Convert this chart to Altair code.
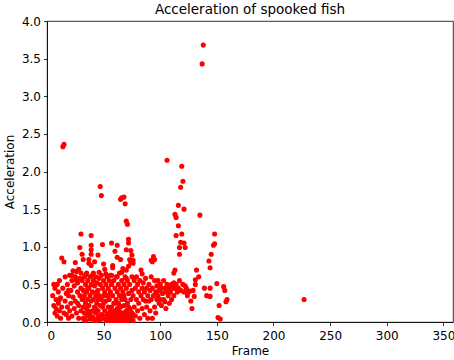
import altair as alt
import pandas as pd

# Frame / acceleration pairs
frames_a = [5, 6, 6, 7, 7, 8, 8, 9, 9, 10, 10, 11, 11, 12, 12, 13, 13, 14, 15, 15, 14, 15, 16, 16, 17, 17, 18, 18, 19, 19, 20, 20]
acc_a = [0.35, 0.5, 0.22, 0.45, 0.12, 0.3, 0.18, 0.5, 0.08, 0.25, 0.4, 0.15, 0.55, 0.32, 0.05, 0.2, 0.85, 2.33, 2.36, 0.8, 0.45, 0.12, 0.28, 0.6, 0.38, 0.1, 0.5, 0.2, 0.05, 0.35, 0.62, 0.15]

frames_b = [21, 21, 22, 22, 23, 23, 24, 24, 25, 25, 25, 26, 26, 27, 27, 28, 28, 28, 29, 29, 29, 30, 30, 30, 30]
acc_b = [0.42, 0.25, 0.55, 0.08, 0.68, 0.33, 0.18, 0.48, 0.79, 0.6, 0.28, 0.67, 0.12, 0.4, 0.52, 0.7, 0.22, 0.05, 0.99, 0.35, 0.58, 1.17, 0.45, 0.15, 0.65]

frames_c = [31, 31, 31, 32, 32, 32, 32, 33, 33, 33, 34, 34, 34, 35, 35, 35, 36, 36, 36, 37, 37, 37, 37, 38, 38, 38,
            39, 39, 39, 39, 39, 39, 39, 40, 40, 40, 41, 41, 41, 42, 42, 42, 43, 43, 43, 44, 44, 44, 45, 45, 45, 45,
            46, 46, 46, 47, 47, 47, 48, 48, 48, 48, 49, 49, 49, 50, 50, 50, 50]
acc_c = [0.9, 0.3, 0.55, 0.83, 0.2, 0.42, 0.05, 0.6, 0.35, 0.12, 0.5, 0.25, 0.02, 0.65, 0.4, 0.18, 0.55, 0.3, 0.08, 0.83, 0.78, 0.45, 0.22, 0.6, 0.35, 0.1,
         1.15, 1.02, 0.96, 0.9, 0.75, 0.5, 0.28, 0.62, 0.15, 0.4, 0.55, 0.3, 0.05, 0.8, 0.48, 0.2, 0.6, 0.35, 0.12, 0.52, 0.25, 0.02, 0.89, 0.42, 0.3, 0.15,
         0.58, 0.35, 0.08, 1.8, 0.5, 0.22, 1.68, 0.62, 0.3, 0.1, 1.03, 0.45, 0.2, 0.77, 0.55, 0.35, 0.05]

frames_d = [51, 51, 51, 52, 52, 52, 53, 53, 53, 54, 54, 54, 55, 55, 55, 56, 56, 56, 57, 57, 57, 57, 58, 58, 58, 58,
            59, 59, 59, 60, 60, 60, 60, 61, 61, 61, 62, 62, 62, 62, 62, 63, 63, 63, 64, 64, 64, 65, 65, 65, 65, 65,
            66, 66, 66, 66, 67, 67, 67, 68, 68, 68, 68, 69, 69, 69, 69, 70, 70, 70, 70, 70, 71, 71, 71, 71,
            72, 72, 72, 72, 72, 73, 73, 73, 74, 74, 74, 74, 75, 75, 75, 75]
acc_d = [0.7, 0.4, 0.15, 0.5, 0.28, 0.02, 0.6, 0.35, 0.1, 0.45, 0.2, 0.05, 0.55, 0.3, 0.12, 0.62, 0.4, 0.08, 1.05, 0.5, 0.2, 0.02, 0.75, 0.72, 0.35, 0.1,
         0.55, 0.25, 0.05, 0.94, 0.45, 0.15, 0.02, 0.6, 0.3, 0.08, 1.02, 0.86, 0.4, 0.18, 0.04, 0.5, 0.25, 0.1, 0.65, 0.35, 0.02, 1.63, 0.83, 0.45, 0.2, 0.06,
         1.65, 0.55, 0.3, 0.12, 0.71, 0.4, 0.02, 1.66, 0.5, 0.22, 0.08, 1.57, 0.6, 0.3, 0.04, 1.34, 0.96, 0.69, 0.45, 0.15, 1.3, 0.55, 0.25, 0.02,
         1.1, 1.05, 0.74, 0.38, 0.1, 0.83, 0.5, 0.18, 0.95, 0.79, 0.3, 0.05, 0.89, 0.6, 0.42, 0.12]

frames_e = [76, 76, 76, 76, 77, 77, 78, 78, 79, 79, 80, 80, 81, 81, 82, 82, 83, 83, 84, 84, 84, 85, 85, 86, 86, 87, 87,
            88, 88, 89, 89, 90, 90, 91, 91, 92, 92, 92, 93, 93, 93, 94, 94, 95, 95, 95, 96, 96, 97, 97, 98, 98, 99, 99, 100, 100]
acc_e = [0.82, 0.78, 0.35, 0.02, 0.55, 0.2, 0.45, 0.08, 0.6, 0.3, 0.5, 0.15, 0.4, 0.25, 0.55, 0.05, 0.69, 0.35, 0.64, 0.45, 0.18, 0.3, 0.52, 0.4, 0.1, 0.28, 0.58,
         0.45, 0.2, 0.35, 0.05, 0.5, 0.28, 0.42, 0.15, 0.82, 0.6, 0.3, 0.8, 0.45, 0.05, 0.87, 0.35, 0.83, 0.55, 0.2, 0.4, 0.12, 0.48, 0.3, 0.55, 0.35, 0.42, 0.25, 0.5, 0.3]

# extra points filling the dense low band
frames_g = [33, 35, 36, 38, 40, 42, 43, 45, 47, 49, 53, 55, 56, 58, 59, 61, 63, 64, 66, 67, 68, 69, 71, 73, 74, 76,
            22, 26, 34, 41, 46, 52, 57, 62, 66, 70, 60, 64, 68, 72, 44, 50, 54, 36, 32, 27, 19, 11]
acc_g = [0.03, 0.1, 0.15, 0.04, 0.07, 0.02, 0.18, 0.06, 0.03, 0.09, 0.03, 0.02, 0.15, 0.05, 0.12, 0.02, 0.06, 0.14, 0.03, 0.1, 0.02, 0.13, 0.08, 0.03, 0.14, 0.1,
         0.62, 0.55, 0.62, 0.65, 0.66, 0.64, 0.62, 0.6, 0.66, 0.58, 0.25, 0.22, 0.35, 0.2, 0.4, 0.25, 0.35, 0.45, 0.3, 0.25, 0.42, 0.3]

frames_f = [101, 101, 102, 103, 103, 104, 104, 105, 105, 106, 106, 107, 108, 108, 109, 110, 110, 111, 112, 112, 112,
            113, 113, 113, 114, 114, 114, 115, 116, 116, 116, 117, 117, 117, 118, 118, 118, 119, 120, 119, 120,
            121, 121, 121, 122, 122, 123, 124, 125, 126, 127, 128, 129, 130, 131, 131, 132, 134, 135, 137, 138,
            139, 141, 143, 144, 144, 144, 145, 147, 148, 148, 150, 151, 152, 153, 156, 157, 158, 159, 227]
acc_f = [0.45, 0.22, 0.38, 0.55, 0.3, 0.27, 0.45, 0.18, 0.4, 2.15, 0.5, 0.35, 0.45, 0.25, 0.4, 0.5, 0.3, 0.45, 0.52, 0.65, 0.35,
         1.43, 0.69, 0.45, 1.39, 1.15, 0.5, 0.4, 1.55, 1.28, 0.45, 0.99, 0.9, 0.55, 1.79, 1.06, 0.42, 2.07, 1.87, 1.17, 0.5,
         1.5, 1.05, 0.4, 0.99, 0.48, 0.45, 0.35, 0.4, 0.41, 0.28, 0.18, 0.42, 0.34, 0.56, 0.5, 0.69, 0.6, 1.42, 3.43, 3.68,
         0.45, 0.35, 0.81, 0.72, 0.45, 0.34, 0.9, 1.02, 1.04, 1.17, 0.51, 0.06, 0.22, 0.04, 0.47, 0.42, 0.27, 0.3, 0.30]

frames = frames_a + frames_b + frames_c + frames_d + frames_e + frames_g + frames_f
accel = acc_a + acc_b + acc_c + acc_d + acc_e + acc_g + acc_f
df = pd.DataFrame({"Frame": frames, "Acceleration": accel})

font = "DejaVu Sans"

chart = alt.Chart(df).mark_circle(color="#ff0000", opacity=1, size=26).encode(
    x=alt.X("Frame:Q", scale=alt.Scale(domain=[0, 358.5], nice=False, zero=False),
            axis=alt.Axis(values=[0, 50, 100, 150, 200, 250, 300, 350], title="Frame", format="d")),
    y=alt.Y("Acceleration:Q", scale=alt.Scale(domain=[0, 4.0], nice=False),
            axis=alt.Axis(values=[0, 0.5, 1.0, 1.5, 2.0, 2.5, 3.0, 3.5, 4.0], title="Acceleration", format=".1f")),
).properties(
    width=406, height=301,
    title=alt.TitleParams("Acceleration of spooked fish", fontSize=13.5, font=font, fontWeight="normal", color="black", offset=-1),
    autosize=alt.AutoSizeParams(type="none"),
    padding={"left": 47, "top": 21, "right": 1, "bottom": 38},
).configure_view(
    stroke="black", strokeWidth=0.8
).configure_axis(
    grid=False, domainColor="black", domainWidth=0.8, tickColor="black", tickSize=3.5, tickWidth=0.8,
    labelFont=font, labelFontSize=12, labelColor="black", labelPadding=3,
    titleFont=font, titleFontSize=12, titleFontWeight="normal", titleColor="black",
).configure_axisX(labelPadding=5, titlePadding=4).configure_axisY(titlePadding=5)

chart.save("out.html", embed_options={"renderer": "svg", "actions": False})
